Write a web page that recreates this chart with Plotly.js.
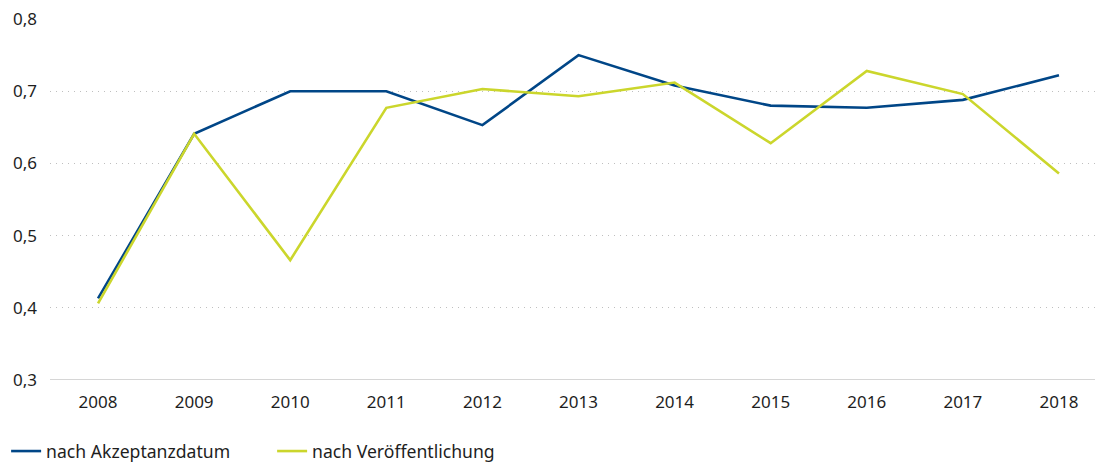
<!DOCTYPE html>
<html>
<head>
<meta charset="utf-8">
<script src="https://cdn.plot.ly/plotly-3.0.1.min.js"></script>
<style>html,body{margin:0;padding:0;background:#fff;}#chart{width:1095px;height:462px;}</style>
</head>
<body>
<div id="chart"></div>
<script>
const years = [2008, 2009, 2010, 2011, 2012, 2013, 2014, 2015, 2016, 2017, 2018];
const akzeptanz = [0.413, 0.641, 0.700, 0.700, 0.653, 0.750, 0.708, 0.680, 0.677, 0.688, 0.722];
const veroeffentlichung = [0.406, 0.641, 0.466, 0.677, 0.703, 0.693, 0.712, 0.628, 0.728, 0.696, 0.586];
const seriesNames = ['nach Akzeptanzdatum', 'nach Veröffentlichung'];
const yTicks = [0.3, 0.4, 0.5, 0.6, 0.7, 0.8];

const font = 'Source Sans Pro, "Noto Sans", "Open Sans", sans-serif';

const traces = [
  {x: years, y: akzeptanz, name: seriesNames[0], type: 'scatter', mode: 'lines',
   line: {color: '#004687', width: 2.6}},
  {x: years, y: veroeffentlichung, name: seriesNames[1], type: 'scatter', mode: 'lines',
   line: {color: '#cbd62c', width: 2.6}}
];

const layout = {
  width: 1095, height: 462,
  margin: {l: 50, r: 0, t: 19, b: 82, autoexpand: false},
  paper_bgcolor: '#fff', plot_bgcolor: '#fff',
  separators: ',.',
  font: {family: font, size: 17, color: '#1e1e1e'},
  showlegend: true,
  legend: {orientation: 'h', x: -0.042, y: -0.197, yanchor: 'middle',
           xanchor: 'left', entrywidth: 221, entrywidthmode: 'pixels',
           font: {family: font, size: 17.6, color: '#1e1e1e'}},
  xaxis: {range: [2007.5, 2018.375], tickvals: years, ticktext: years.map(String),
          showgrid: false, zeroline: false, showline: false, ticks: '',
          ticklabelstandoff: 10, fixedrange: true},
  yaxis: {range: [0.3, 0.8], tickvals: yTicks, tickformat: '.1f',
          showgrid: true, gridcolor: '#bfbfbf', griddash: '1px,5px', gridwidth: 1,
          zeroline: false, showline: false, ticks: '', ticklabelstandoff: 12, fixedrange: true},
  shapes: [{type: 'line', xref: 'paper', yref: 'y', x0: 0, x1: 1, y0: 0.3, y1: 0.3,
            line: {color: '#c8c8c8', width: 1.5}, layer: 'below'}]
};

Plotly.newPlot('chart', traces, layout, {displayModeBar: false, staticPlot: true});
</script>
</body>
</html>
